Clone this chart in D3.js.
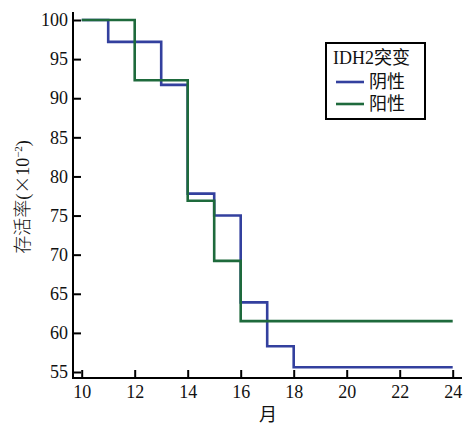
<!DOCTYPE html>
<html>
<head>
<meta charset="utf-8">
<script src="https://cdn.jsdelivr.net/npm/d3@7"></script>
<style>
  body { margin: 0; background: #fff; }
  text { font-family: "Liberation Serif", "Noto Sans CJK SC", serif; fill: #111; }
</style>
</head>
<body>
<svg width="465" height="426"></svg>
<script>
const svg = d3.select('svg')

// survival data (months, survival %)
const negTimes = [10, 11, 13, 14, 15, 16, 17, 18]
const negValues = [100, 97.2, 91.7, 77.8, 75.0, 63.9, 58.3, 55.6]
const posTimes = [10, 12, 14, 15, 16]
const posValues = [100, 92.3, 76.9, 69.2, 61.5]
const endTime = 24
const xTicks = [10, 12, 14, 16, 18, 20, 22, 24]
const yTicks = [55, 60, 65, 70, 75, 80, 85, 90, 95, 100]
const legendTitle = 'IDH2突变'
const groupNames = ['阴性', '阳性']
const colors = ['#33409e', '#1e6a3c']

const x = d3.scaleLinear().domain([10, 24]).range([81.7, 452.7])
const y = d3.scaleLinear().domain([55, 100]).range([372, 20])

const axisX = 73
const axisY = 378

// axes lines
svg.append('line')
	.attr('x1', axisX).attr('x2', axisX)
	.attr('y1', 12).attr('y2', axisY + 1)
	.attr('stroke', '#000').attr('stroke-width', 2)
svg.append('line')
	.attr('x1', axisX - 1).attr('x2', 462)
	.attr('y1', axisY).attr('y2', axisY)
	.attr('stroke', '#000').attr('stroke-width', 2)

const yAxis = svg.append('g')
	.attr('transform', `translate(${axisX},0)`)
	.call(d3.axisLeft(y).tickValues(yTicks).tickSize(-8).tickPadding(5))
yAxis.select('.domain').remove()
yAxis.selectAll('.tick line').attr('stroke', '#000').attr('stroke-width', 2)
yAxis.selectAll('.tick text')
	.style('font-size', '18px')
	.attr('dy', '0.32em')

const xAxis = svg.append('g')
	.attr('transform', `translate(0,${axisY})`)
	.call(d3.axisBottom(x).tickValues(xTicks).tickSize(-8).tickPadding(7))
xAxis.select('.domain').remove()
xAxis.selectAll('.tick line').attr('stroke', '#000').attr('stroke-width', 2)
xAxis.selectAll('.tick text')
	.style('font-size', '18px')

// step curves
const line = d3.line()
	.x(d => x(d[0]))
	.y(d => y(d[1]))
	.curve(d3.curveStepAfter)

const series = [
	negTimes.map((t, i) => [t, negValues[i]]).concat([[endTime, negValues[negValues.length - 1]]]),
	posTimes.map((t, i) => [t, posValues[i]]).concat([[endTime, posValues[posValues.length - 1]]]),
]

svg.selectAll('.curve')
	.data(series)
	.enter()
	.append('path')
	.attr('class', 'curve')
	.attr('d', line)
	.attr('fill', 'none')
	.attr('stroke', (d, i) => colors[i])
	.attr('stroke-width', 2.6)

// axis titles
svg.append('text')
	.attr('x', 268).attr('y', 421)
	.attr('text-anchor', 'middle')
	.style('font-size', '18px')
	.text('月')

const yl = svg.append('text')
	.attr('transform', 'translate(29,197) rotate(-90)')
	.attr('text-anchor', 'middle')
	.style('font-size', '18px')
	.style('font-weight', 300)
yl.append('tspan').text('存活率(')
yl.append('tspan').style('font-family', '"Noto Sans CJK SC"').style('font-weight', 300).text('×')
yl.append('tspan').text('10')
yl.append('tspan').attr('dy', -7).style('font-size', '11px').text('−2')
yl.append('tspan').attr('dy', 7).text(')')

// legend
const lg = svg.append('g')
lg.append('rect')
	.attr('x', 326).attr('y', 43)
	.attr('width', 99).attr('height', 76)
	.attr('fill', '#fff')
	.attr('stroke', '#000').attr('stroke-width', 2)
lg.append('text')
	.attr('x', 333).attr('y', 64)
	.style('font-size', '18px')
	.text(legendTitle)

const items = lg.selectAll('.item')
	.data(groupNames)
	.enter()
	.append('g')
	.attr('class', 'item')
	.attr('transform', (d, i) => `translate(0,${82 + i * 22})`)
items.append('line')
	.attr('x1', 336).attr('x2', 364)
	.attr('stroke', (d, i) => colors[i])
	.attr('stroke-width', 2.6)
items.append('text')
	.attr('x', 369).attr('y', 6)
	.style('font-size', '18px')
	.text(d => d)
</script>
</body>
</html>
